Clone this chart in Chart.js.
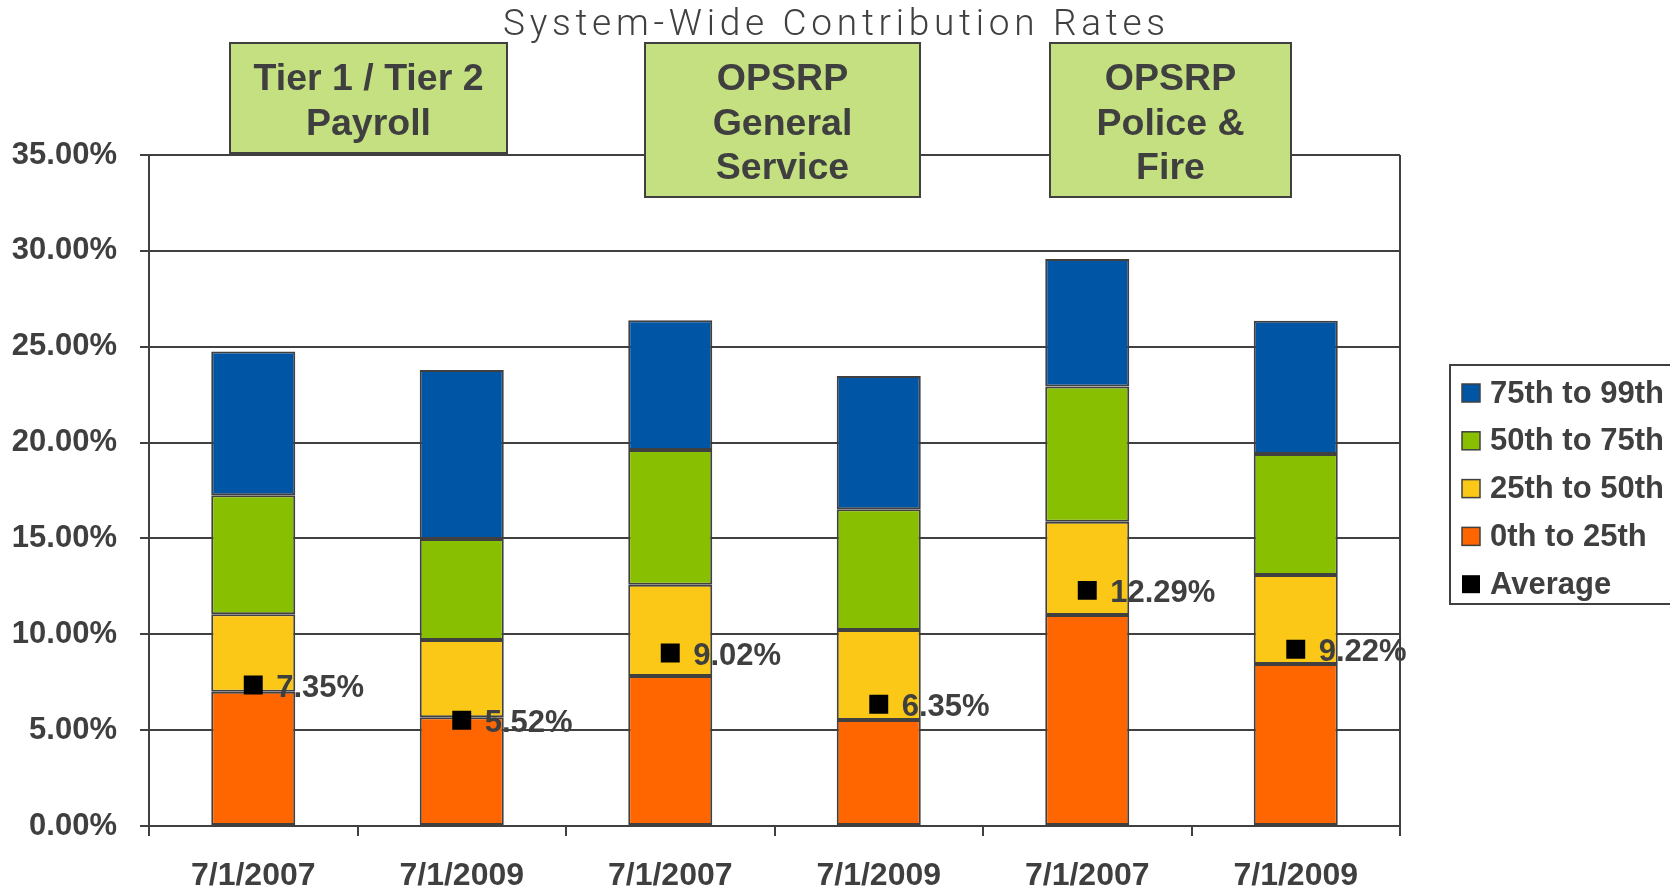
<!DOCTYPE html>
<html>
<head>
<meta charset="utf-8">
<script src="https://cdn.jsdelivr.net/npm/chart.js@4/dist/chart.umd.min.js"></script>
<style>
  html, body { margin: 0; padding: 0; background: #fff; }
  #wrap { width: 1670px; height: 888px; position: relative; }
</style>
</head>
<body>
<div id="wrap"><canvas id="rates"></canvas></div>
<script>
// values (segment heights of each stacked bar, in %)
const categories = ['7/1/2007', '7/1/2009', '7/1/2007', '7/1/2009', '7/1/2007', '7/1/2009'];
const p0to25  = [7.00, 5.67, 7.82, 5.53, 11.00, 8.45];
const p25to50 = [4.05, 4.03, 4.77, 4.69, 4.87, 4.64];
const p50to75 = [6.20, 5.27, 7.02, 6.30, 7.05, 6.31];
const p75to99 = [7.50, 8.82, 6.77, 6.95, 6.66, 6.96];
const average = [7.35, 5.52, 9.02, 6.35, 12.29, 9.22];
const yTicks = [0, 5, 10, 15, 20, 25, 30, 35];
const groupNames = [
  ['Tier 1 / Tier 2', 'Payroll'],
  ['OPSRP', 'General', 'Service'],
  ['OPSRP', 'Police &', 'Fire']
];
const chartTitle = 'System-Wide Contribution Rates';

const INK = '#3f3f3f';
const BOLD = "'Liberation Sans', Arial, sans-serif";

// where the three group boxes sit (x0, x1, y0, y1)
const groupBoxes = [
  [230, 507, 43, 153],
  [645, 920, 43, 197],
  [1050, 1291, 43, 197]
];

const decorPlugin = {
  id: 'decor',
  beforeDraw(chart) {
    const ctx = chart.ctx;
    ctx.save();
    ctx.fillStyle = '#fff';
    ctx.fillRect(0, 0, chart.width, chart.height);
    ctx.restore();
  },
  afterDatasetsDraw(chart) {
    const ctx = chart.ctx;
    const meta = chart.getDatasetMeta(0);
    ctx.save();
    ctx.font = 'bold 31px ' + BOLD;
    ctx.fillStyle = INK;
    ctx.textAlign = 'left';
    ctx.textBaseline = 'middle';
    meta.data.forEach((pt, i) => {
      ctx.fillText(average[i].toFixed(2) + '%', pt.x + 23, pt.y + 3);
    });
    ctx.restore();
  },
  afterDraw(chart) {
    const { ctx, chartArea } = chart;
    ctx.save();

    // right frame line
    ctx.strokeStyle = INK;
    ctx.lineWidth = 2;
    ctx.beginPath();
    ctx.moveTo(chartArea.right, chartArea.top);
    ctx.lineTo(chartArea.right, chartArea.bottom);
    ctx.stroke();

    // title
    ctx.font = "300 37px Roboto, 'Open Sans', sans-serif";
    ctx.fillStyle = '#404040';
    ctx.textBaseline = 'alphabetic';
    ctx.textAlign = 'left';
    ctx.letterSpacing = '0px';
    const natural = ctx.measureText(chartTitle).width;
    const ls = (662 - natural) / (chartTitle.length - 1);
    ctx.letterSpacing = ls + 'px';
    ctx.fillText(chartTitle, 503, 35);
    ctx.letterSpacing = '0px';

    // group boxes
    groupBoxes.forEach((b, k) => {
      const [x0, x1, y0, y1] = b;
      ctx.fillStyle = '#c4e080';
      ctx.fillRect(x0, y0, x1 - x0, y1 - y0);
      ctx.strokeStyle = '#404040';
      ctx.lineWidth = 2;
      ctx.strokeRect(x0, y0, x1 - x0, y1 - y0);
      ctx.fillStyle = INK;
      ctx.font = 'bold 37.5px ' + BOLD;
      ctx.textAlign = 'center';
      ctx.textBaseline = 'middle';
      groupNames[k].forEach((line, j) => {
        ctx.fillText(line, (x0 + x1) / 2, 80 + j * 44.5);
      });
    });

    // legend
    const lx = chartArea.right + 50;
    const ly = 365;
    ctx.strokeStyle = '#404040';
    ctx.lineWidth = 2;
    ctx.strokeRect(lx, ly, 260, 239);
    const order = [4, 3, 2, 1, 0];
    ctx.font = 'bold 31px ' + BOLD;
    ctx.textAlign = 'left';
    ctx.textBaseline = 'middle';
    order.forEach((di, r) => {
      const ds = chart.data.datasets[di];
      const cy = ly + 28 + r * 47.8;
      ctx.fillStyle = ds.backgroundColor;
      ctx.fillRect(lx + 12, cy - 9, 18, 18);
      if (di !== 0) {
        ctx.strokeStyle = '#404040';
        ctx.lineWidth = 1.5;
        ctx.strokeRect(lx + 12, cy - 9, 18, 18);
      }
      ctx.fillStyle = INK;
      ctx.fillText(ds.label, lx + 40, cy + 1);
    });

    ctx.restore();
  }
};

const barStyle = {
  borderColor: '#404040',
  borderWidth: 2,
  borderSkipped: false,
  barPercentage: 0.403,
  categoryPercentage: 1.0,
  order: 1
};

new Chart(document.getElementById('rates'), {
  type: 'bar',
  data: {
    labels: categories,
    datasets: [
      {
        type: 'line',
        label: 'Average',
        data: average,
        showLine: false,
        pointStyle: 'rect',
        pointRadius: 13.4,
        pointHoverRadius: 13.4,
        backgroundColor: '#000000',
        borderColor: '#000000',
        pointBorderWidth: 0,
        order: 0
      },
      { label: '0th to 25th', data: p0to25, backgroundColor: '#ff6600', ...barStyle },
      { label: '25th to 50th', data: p25to50, backgroundColor: '#fcc817', ...barStyle },
      { label: '50th to 75th', data: p50to75, backgroundColor: '#88bf00', ...barStyle },
      { label: '75th to 99th', data: p75to99, backgroundColor: '#0055a5', ...barStyle }
    ]
  },
  options: {
    responsive: true,
    maintainAspectRatio: false,
    devicePixelRatio: 1,
    animation: false,
    layout: { padding: { top: 155, right: 270, left: 0, bottom: 0 } },
    plugins: {
      legend: { display: false },
      title: { display: false },
      tooltip: { enabled: false }
    },
    scales: {
      x: {
        stacked: true,
        grid: {
          display: true,
          drawOnChartArea: false,
          drawTicks: true,
          tickLength: 10,
          color: '#404040',
          lineWidth: 2,
          offset: true
        },
        border: { display: true, color: '#404040', width: 2 },
        ticks: {
          color: INK,
          padding: 21,
          maxRotation: 0,
          font: { family: BOLD, size: 32, weight: 'bold' }
        },
        afterFit(scale) { scale.height = 62; }
      },
      y: {
        stacked: true,
        min: 0,
        max: 35,
        afterBuildTicks(scale) {
          scale.ticks = yTicks.map(v => ({ value: v }));
        },
        grid: {
          color: '#404040',
          lineWidth: 2,
          drawTicks: true,
          tickLength: 9
        },
        border: { display: true, color: '#404040', width: 2 },
        ticks: {
          color: INK,
          padding: 23,
          font: { family: BOLD, size: 31, weight: 'bold' },
          callback: (v) => Number(v).toFixed(2) + '%'
        },
        afterFit(scale) { scale.width = 149; }
      }
    }
  },
  plugins: [decorPlugin]
});
</script>
</body>
</html>
